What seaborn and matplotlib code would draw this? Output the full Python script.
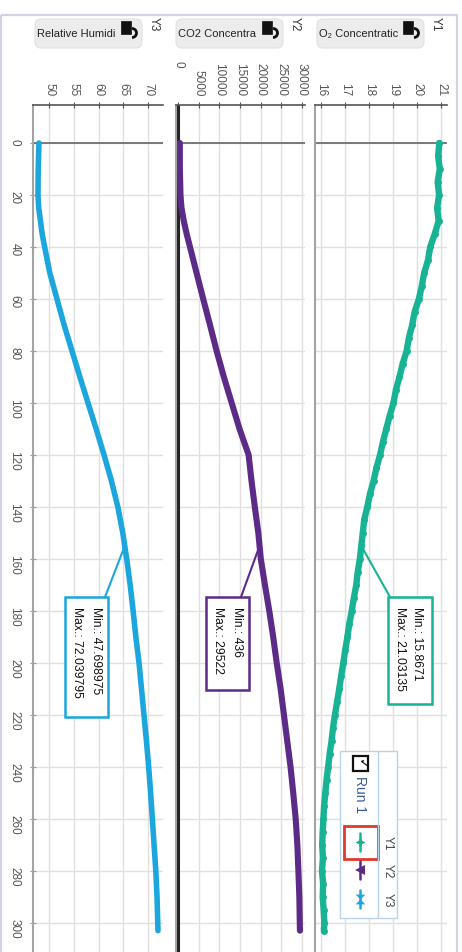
import pandas as pd
import seaborn as sns
import matplotlib.pyplot as plt
from matplotlib.patches import Rectangle, FancyBboxPatch, Arc, ConnectionPatch
from matplotlib.lines import Line2D
from matplotlib.transforms import Affine2D

sns.set_style("whitegrid")
plt.rcParams['font.family'] = ['Liberation Sans', 'DejaVu Sans']

# O2 concentration (Y1), read every 5 s
t_o2 = [0, 5, 10, 15, 20, 25, 30, 35, 40, 45, 50, 55, 60, 65, 70, 75, 80, 85, 90, 95,
        100, 105, 110, 115, 120, 125, 130, 135, 140, 145, 150, 155, 160, 165, 170, 175,
        180, 185, 190, 195, 200, 205, 210, 215, 220, 225, 230, 235, 240, 245, 250, 255,
        260, 265, 270, 275, 280, 285, 290, 295, 300, 303]
o2 = [20.93, 20.88, 20.95, 20.86, 20.92, 20.84, 20.90, 20.74, 20.55, 20.46, 20.30, 20.20,
      20.08, 19.90, 19.80, 19.66, 19.57, 19.40, 19.27, 19.12, 19.02, 18.86, 18.72, 18.58,
      18.46, 18.31, 18.19, 18.04, 17.93, 17.80, 17.74, 17.68, 17.62, 17.53, 17.47, 17.37,
      17.28, 17.18, 17.10, 17.01, 16.93, 16.84, 16.76, 16.67, 16.58, 16.50, 16.44, 16.36,
      16.30, 16.23, 16.18, 16.13, 16.10, 16.07, 16.05, 16.08, 16.04, 16.09, 16.07, 16.11,
      16.14, 16.12]

# CO2 (Y2) and relative humidity (Y3)
t_run = [0, 10, 20, 25, 30, 35, 40, 50, 60, 70, 80, 90, 100, 110, 115, 120, 125, 130,
         140, 150, 155, 160, 170, 180, 190, 200, 210, 220, 230, 240, 250, 260, 270, 280,
         290, 303]
co2 = [436, 450, 600, 850, 1400, 2100, 2900, 4500, 6100, 7750, 9350, 11100, 13000, 14900,
       16000, 17100, 17450, 17800, 18600, 19450, 19750, 20050, 21050, 22100, 23050, 23900,
       24850, 25650, 26450, 27250, 27900, 28500, 28900, 29150, 29380, 29522]
rh = [47.90, 47.75, 47.70, 47.85, 48.20, 48.55, 49.05, 50.10, 51.55, 53.00, 54.60, 56.20,
      57.85, 59.50, 60.30, 61.10, 61.85, 62.60, 63.90, 64.90, 65.30, 65.70, 66.40, 67.00,
      67.55, 68.20, 68.70, 69.20, 69.70, 70.15, 70.55, 70.90, 71.25, 71.60, 71.85, 72.04]

time_ticks = list(range(0, 301, 20))
o2_ticks = [16, 17, 18, 19, 20, 21]
co2_ticks = [0, 5000, 10000, 15000, 20000, 25000, 30000]
rh_ticks = [50, 55, 60, 65, 70]

teal = '#17b394'
purple = '#5c2b88'
blue = '#1ba6dd'

W, H = 462, 953
fig = plt.figure(figsize=(W / 100, H / 100), dpi=100)
fig.patch.set_facecolor('white')
px = Affine2D().scale(1 / W, -1 / H).translate(0, 1) + fig.transFigure


def panel(x0, x1, xlim, ticks, labels):
    ax = fig.add_axes([x0 / W, 0, (x1 - x0) / W, (H - 106) / H])
    ax.set_facecolor('white')
    ax.set_xlim(xlim)
    ax.set_ylim(311.2, -14.6)
    ax.xaxis.tick_top()
    ax.set_xticks(ticks)
    ax.set_xticklabels(labels, rotation=-90)
    ax.set_yticks(time_ticks)
    ax.grid(True, color='#e4dfdf', lw=1)
    for s in ['right', 'bottom']:
        ax.spines[s].set_visible(False)
    ax.spines['top'].set_color('#555555')
    ax.spines['top'].set_linewidth(1.2)
    ax.spines['left'].set_color('#a3a3a3')
    ax.spines['left'].set_linewidth(1.5)
    ax.tick_params(axis='x', top=True, bottom=False, length=4, direction='inout',
                   color='#555555', labelsize=8.5, labelcolor='#555555', pad=5)
    ax.tick_params(axis='y', left=False, labelleft=False)
    ax.axhline(0, color='#666666', lw=1.2, zorder=1)
    return ax


ax_rh = panel(33, 163, (46.69, 73.06), rh_ticks, [str(v) for v in rh_ticks])
ax_co2 = panel(176, 305, (-484, 30750), co2_ticks, [''] + [str(v) for v in co2_ticks[1:]])
ax_o2 = panel(315, 447, (15.75, 21.25), o2_ticks, [str(v) for v in o2_ticks])

ax_rh.tick_params(axis='y', left=True, labelleft=True, length=4, direction='inout',
                  color='#999999', labelsize=8.5, labelcolor='#555555', pad=7)
for lab in ax_rh.get_yticklabels():
    lab.set_rotation(-90)
ax_co2.axvline(0, color='#222222', lw=2.2, zorder=1.5)

df_o2 = pd.DataFrame({'t': t_o2, 'v': o2})
df_run = pd.DataFrame({'t': t_run, 'co2': co2, 'rh': rh})
sns.lineplot(data=df_o2, x='v', y='t', orient='y', sort=False, ax=ax_o2, color=teal,
             lw=4.6, marker='o', markersize=5, markeredgewidth=0)
sns.lineplot(data=df_run, x='co2', y='t', orient='y', sort=False, ax=ax_co2, color=purple,
             lw=4.4)
sns.lineplot(data=df_run, x='rh', y='t', orient='y', sort=False, ax=ax_rh, color=blue,
             lw=4.0)
for ax in (ax_rh, ax_co2, ax_o2):
    ax.set_xlabel('')
    ax.set_ylabel('')

# CO2 zero label sits higher than the others
fig.text(178, 61, '0', transform=px, rotation=-90, ha='center', va='top',
         fontsize=8.5, color='#555555')

# header buttons
for bx, label, yl in [(35, 'Relative Humidi', 'Y3'), (176, 'CO2 Concentra', 'Y2'),
                      (317, 'O\u2082 Concentratic', 'Y1')]:
    fig.add_artist(FancyBboxPatch((bx, 20), 107, 29, boxstyle='round,pad=0,rounding_size=6',
                                  transform=px, facecolor='#ececec', edgecolor='#e2e2e2', lw=0.8))
    fig.text(bx + 2, 34, label, transform=px, ha='left', va='center', fontsize=8,
             color='#222222')
    fig.add_artist(Rectangle((bx + 86, 22), 10, 13, transform=px, facecolor='#111111',
                             edgecolor='#111111', lw=0.5))
    fig.add_artist(Arc((bx + 97, 34), 9, 9, theta1=-90, theta2=90, transform=px,
                       color='#111111', lw=2))
    fig.text(bx + 119, 24, yl, transform=px, rotation=-90, ha='center', va='center',
             fontsize=8.5, color='#333333')

# min / max callouts
callouts = [
    (ax_o2, teal, 'v', df_o2, (388, 598, 44, 107), (390, 598), 417, 400,
     'Min.: 15.8671', 'Max.: 21.03135'),
    (ax_co2, purple, 'co2', df_run, (206, 598, 43, 93), (241, 598), 237, 218,
     'Min.: 436', 'Max.: 29522'),
    (ax_rh, blue, 'rh', df_run, (65, 598, 43, 120), (105, 598), 96, 77,
     'Min.: 47.698975', 'Max.: 72.039795'),
]
for ax, col, key, df, box, start, xmin, xmax, smin, smax in callouts:
    row = df[df['t'] == 155].iloc[0]
    fig.add_artist(ConnectionPatch(xyA=start, coordsA=px, xyB=(row[key], 155),
                                   coordsB=ax.transData, color=col, lw=1.5))
    fig.add_artist(Rectangle(box[:2], box[2], box[3], transform=px, facecolor='white',
                             edgecolor=col, lw=1.8))
    fig.text(xmin, box[1] + 9, smin, transform=px, rotation=-90, ha='center', va='top',
             fontsize=8.7, color='#111111')
    fig.text(xmax, box[1] + 9, smax, transform=px, rotation=-90, ha='center', va='top',
             fontsize=8.7, color='#111111')

# run legend
fig.add_artist(Rectangle((340, 752), 57, 167, transform=px, facecolor='white',
                         edgecolor='#b9d3ea', lw=1))
fig.add_artist(Line2D([378, 378], [752, 919], transform=px, color='#b9d3ea', lw=1))
fig.add_artist(Rectangle((353, 757), 15, 15, transform=px, facecolor='white',
                         edgecolor='#111111', lw=1.6))
fig.text(360.5, 764.5, '\u2713', transform=px, rotation=-90, ha='center', va='center',
         fontsize=10, color='#111111', family='DejaVu Sans')
fig.text(360, 776, 'Run 1', transform=px, rotation=-90, ha='center', va='top',
         fontsize=10, color='#3b5b9c')
fig.add_artist(Rectangle((344, 827), 34, 33, transform=px, facecolor='none',
                         edgecolor='#e03a2e', lw=2))
hourglass = [(-1, 1), (1, 1), (-1, -1), (1, -1), (-1, 1)]
for yy, col, mk, name in [(843, teal, (4, 1, 0), 'Y1'), (871, purple, '<', 'Y2'),
                          (900, blue, hourglass, 'Y3')]:
    fig.add_artist(Line2D([360, 360], [yy - 9, yy + 9], transform=px, color=col, lw=1.8))
    fig.add_artist(Line2D([360], [yy], transform=px, color=col, marker=mk, markersize=7,
                          markeredgewidth=0, linestyle='none'))
    fig.text(388, yy, name, transform=px, rotation=-90, ha='center', va='center',
             fontsize=8.5, color='#444444')

# outer frame
fig.add_artist(Rectangle((1, 16), 456, 945, transform=px, fill=False,
                         edgecolor='#d8cee6', lw=1.6))

fig.savefig('out.png', dpi=100)
